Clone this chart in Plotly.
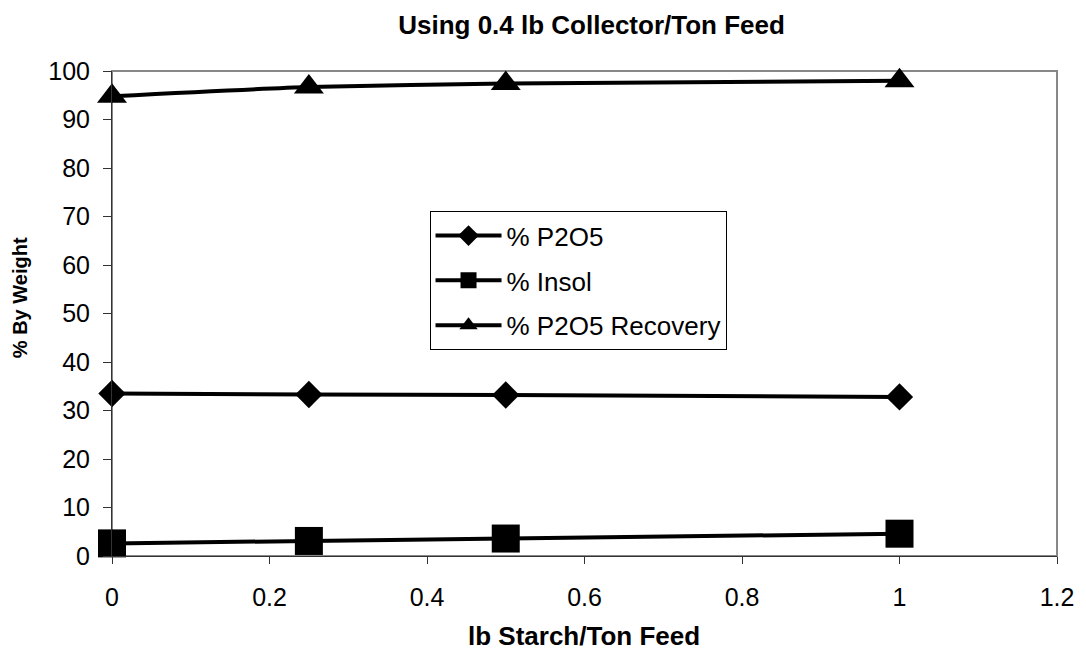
import plotly.graph_objects as go

starch = [0, 0.25, 0.5, 1]
p2o5 = [33.5, 33.3, 33.2, 32.8]
insol = [2.6, 3.1, 3.6, 4.6]
recovery = [94.8, 96.7, 97.4, 98.0]
x_ticks = [0, 0.2, 0.4, 0.6, 0.8, 1, 1.2]
x_tick_text = ["0", "0.2", "0.4", "0.6", "0.8", "1", "1.2"]

font = "Liberation Sans, Arial, sans-serif"
fig = go.Figure()
series = [
    ("% P2O5", p2o5, "diamond", 21),
    ("% Insol", insol, "square", 28),
    ("% P2O5 Recovery", recovery, "triangle-up", 26),
]
for i, (name, ys, sym, sz) in enumerate(series):
    fig.add_trace(go.Scatter(
        x=starch, y=ys, name=name, mode="lines+markers", legendgroup=str(i),
        line=dict(color="black", width=4, shape="spline", smoothing=0.6),
        marker=dict(symbol=sym, size=sz, color="black"),
        cliponaxis=False,
    ))

fig.update_layout(
    width=1086, height=650,
    margin=dict(l=112, r=22, t=71, b=94),
    paper_bgcolor="white", plot_bgcolor="white",
    font=dict(family=font, size=25, color="black"),
    title=dict(text="<b>Using 0.4 lb Collector/Ton Feed</b>", x=0.5447, xanchor="center",
               xref="container", yref="container",
               y=0.962, yanchor="middle", font=dict(size=26)),
    showlegend=True,
    legend=dict(x=0.336, y=0.711, xanchor="left", yanchor="top",
                bordercolor="black", borderwidth=1, bgcolor="white",
                font=dict(size=26), itemwidth=66, tracegroupgap=8),
    xaxis=dict(range=[0, 1.2], tickvals=x_ticks, ticktext=x_tick_text,
               showgrid=False, zeroline=False, showline=True, linecolor="#333333", linewidth=1,
               ticks="outside", ticklen=7, tickcolor="#333333", ticklabelstandoff=12),
    yaxis=dict(range=[0, 100], dtick=10, showgrid=False, zeroline=False,
               showline=True, linecolor="#333333", linewidth=1,
               ticks="outside", ticklen=8, tickcolor="#333333", ticklabelstandoff=8),
    shapes=[dict(type="rect", xref="paper", yref="paper", x0=0, x1=1, y0=0, y1=1,
                 line=dict(color="#888888", width=2), layer="below")],
    annotations=[
        dict(text="<b>lb Starch/Ton Feed</b>", xref="paper", yref="paper",
             x=0.499, y=-0.165, xanchor="center", yanchor="middle",
             showarrow=False, font=dict(size=26)),
        dict(text="<b>% By Weight</b>", xref="paper", yref="paper",
             x=-0.0966, y=0.533, xanchor="center", yanchor="middle", textangle=-90,
             showarrow=False, font=dict(size=20)),
    ],
)
fig.write_html("out.html")
